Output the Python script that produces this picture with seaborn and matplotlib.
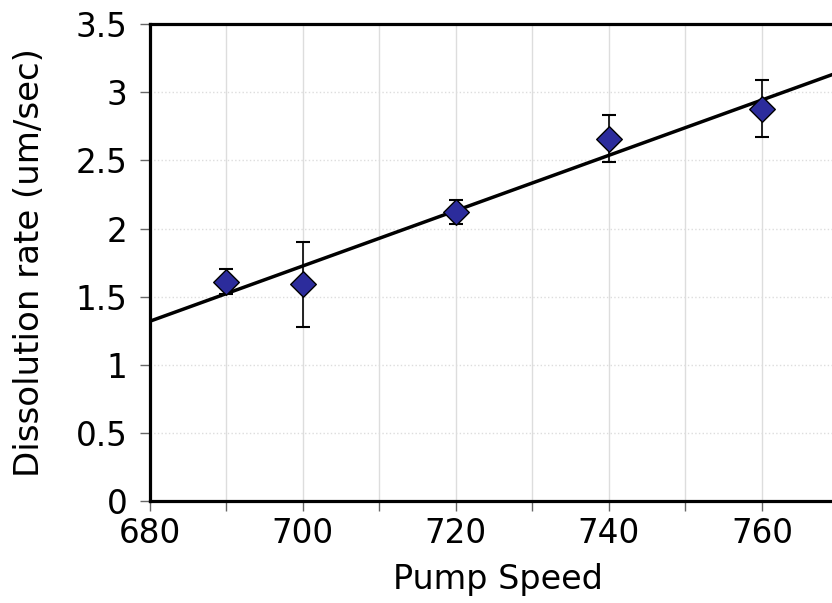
import numpy as np
import pandas as pd
from matplotlib import pyplot as plt
import seaborn as sns

pump_speed = [690, 700, 720, 740, 760]
rate = [1.61, 1.59, 2.12, 2.66, 2.88]
rate_err = [0.09, 0.31, 0.09, 0.17, 0.21]

df = pd.DataFrame({"speed": pump_speed, "rate": rate, "err": rate_err})

sns.set_theme(style="white")
plt.rcParams['font.family'] = ['DejaVu Sans']

fig = plt.figure(figsize=(8.32, 6.03), dpi=100)
ax = fig.add_axes([0.180, 0.169, 0.837, 0.791])
ax.set_xlim(680, 771)
ax.set_ylim(0, 3.5)

# least squares line, drawn over the full x range
sns.regplot(data=df, x="speed", y="rate", ci=None, truncate=False, scatter=False,
            line_kws={"color": "black", "lw": 2.5, "zorder": 2}, ax=ax)

ax.errorbar(df["speed"], df["rate"], yerr=df["err"], fmt="none", ecolor="black",
            elinewidth=1.2, capsize=5, capthick=1.5, zorder=3)
sns.scatterplot(data=df, x="speed", y="rate", marker="D", s=170, color="#2c2c9c",
                edgecolor="black", linewidth=1.0, zorder=4, ax=ax)

ax.set_xticks(np.arange(680, 771, 20))
ax.set_xticks(np.arange(680, 771, 10), minor=True)
ax.set_yticks(np.arange(0, 3.51, 0.5))
ax.set_yticklabels(["0", "0.5", "1", "1.5", "2", "2.5", "3", "3.5"])
ax.grid(True, which="both", axis="x", color="#dddddd", lw=1)
ax.grid(True, axis="y", color="#dddddd", lw=1, ls=":")
ax.set_axisbelow(True)

for side in ["left", "bottom", "top"]:
    ax.spines[side].set_linewidth(2.3)
    ax.spines[side].set_color("black")
ax.spines["right"].set_visible(False)

ax.tick_params(axis="both", which="both", direction="out", length=7, width=1,
               color="#666666", labelcolor="black", labelsize=23.5,
               bottom=True, left=True)
ax.tick_params(axis="x", pad=4.5)
ax.tick_params(axis="y", pad=9)
ax.set_xlabel("Pump Speed", fontsize=24, color="black", labelpad=9)
ax.set_ylabel("Dissolution rate (um/sec)", fontsize=24.5, color="black")
ax.yaxis.set_label_coords(-0.149, 0.5)

fig.savefig("out.png", dpi=100)
